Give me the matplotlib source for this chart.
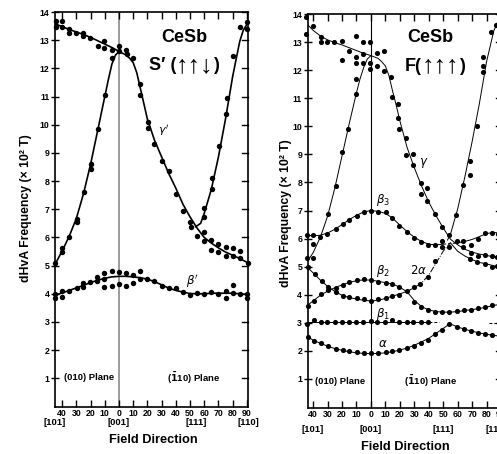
import matplotlib
matplotlib.use("Agg")
import matplotlib.pyplot as plt

plt.rcParams['font.family'] = ['Liberation Sans', 'DejaVu Sans']
plt.rcParams['mathtext.fontset'] = 'dejavusans'

# ---------------- angular axis ----------------
xtick_vals = [-40, -30, -20, -10, 0, 10, 20, 30, 40, 50, 60, 70, 80, 90]
xtick_text = ['40', '30', '20', '10', '0', '10', '20', '30', '40', '50', '60', '70', '80', '90']
ytick_vals = [1, 2, 3, 4, 5, 6, 7, 8, 9, 10, 11, 12, 13, 14]
dir_names = ['[101]', '[001]', '[111]', '[110]']

# ---------------- S' (up up down) phase: measured points ----------------
Sp_upper_x = [-44.6, -44.6, -40.4, -40.0, -35.2, -35.2, -30.5, -25.6, -25.6, -20.4, -15.0,
              -10.4, -10.4, -4.7, 0.0, 0.0, 4.7, 5.4, 10.1]
Sp_upper_y = [13.67, 13.47, 13.67, 13.47, 13.38, 13.27, 13.27, 13.27, 13.14, 13.06, 12.79,
              12.96, 12.74, 12.64, 12.78, 12.62, 12.64, 12.52, 12.38]

Sp_gdesc_x = [14.8, 14.8, 20.2, 20.2, 24.9, 30.5, 35.2, 40.1, 45.3, 50.0, 50.5, 54.7,
              59.9, 59.9, 64.8, 64.8, 69.9, 69.9, 75.1, 75.1, 80.1, 80.1, 85.2, 85.2, 90.6]
Sp_gdesc_y = [11.43, 11.07, 10.08, 9.89, 9.33, 8.72, 8.35, 7.54, 6.94, 6.55, 6.38, 6.06,
              6.20, 5.88, 5.90, 5.55, 5.76, 5.47, 5.67, 5.35, 5.63, 5.34, 5.51, 5.26, 5.10]

Sp_rise_l_x = [-45.0, -40.4, -40.4, -35.2, -29.8, -29.8, -24.6, -19.9, -19.9, -15.0, -9.9, -4.7]
Sp_rise_l_y = [5.10, 5.61, 5.48, 6.00, 6.67, 6.55, 7.62, 8.60, 8.42, 9.84, 11.07, 12.35]

Sp_rise_r_x = [60.1, 60.1, 65.3, 65.3, 70.4, 75.1, 75.8, 80.5, 85.2, 90.4, 90.4]
Sp_rise_r_y = [6.71, 7.06, 7.71, 8.11, 9.25, 10.37, 10.95, 12.44, 13.47, 13.41, 13.65]

Sp_beta_x = [-45, -45, -40.4, -40.4, -35, -29.8, -25.6, -25.6, -20.4, -15.7, -15.7, -10.4, -10.4,
             -10.4, -5.1, -5.1, 0, 0, 4.7, 4.7, 10.1, 10.1, 14.8, 14.8, 19.9, 24.9, 30.5, 35.2,
             40.1, 45.3, 50, 55.1, 59.9, 64.8, 69.9, 75.1, 75.1, 80.1, 80.1, 85.2, 90.4, 90.4]
Sp_beta_y = [3.84, 3.99, 4.10, 3.89, 4.11, 4.19, 4.25, 4.37, 4.41, 4.45, 4.58, 4.72, 4.53,
             4.25, 4.80, 4.28, 4.76, 4.34, 4.74, 4.28, 4.65, 4.40, 4.80, 4.53, 4.53, 4.45, 4.28,
             4.21, 4.19, 4.07, 3.95, 4.04, 3.99, 4.07, 3.99, 4.10, 3.86, 4.31, 4.04, 3.99, 3.99, 3.86]

# S' phase: guide curves
Sp_top_cx = [-45, -40, -35, -30, -25, -20, -15, -10, -5, 0, 5, 7.5, 10, 12.5, 15, 17.5, 20,
             25, 30, 35, 40, 45, 50, 55, 60, 65, 70, 75, 80, 85, 90.8]
Sp_top_cy = [13.58, 13.48, 13.38, 13.29, 13.2, 13.1, 12.98, 12.86, 12.74, 12.6, 12.47, 12.36,
             12.2, 11.85, 11.3, 10.75, 10.2, 9.45, 8.86, 8.27, 7.75, 7.18, 6.73, 6.33, 6.0,
             5.8, 5.63, 5.48, 5.37, 5.25, 5.1]
Sp_rise_l_cx = [-45, -40, -35, -30, -25, -20, -15, -10, -7.5, -5, -2.5, 0]
Sp_rise_l_cy = [5.05, 5.52, 6.05, 6.68, 7.55, 8.6, 9.8, 11.0, 11.6, 12.15, 12.47, 12.6]
Sp_rise_r_cx = [54, 57.5, 60, 65, 70, 75, 80, 85, 87.5, 90.8]
Sp_rise_r_cy = [6.38, 6.5, 6.85, 7.7, 8.85, 10.2, 11.7, 12.95, 13.35, 13.62]
Sp_beta_cx = [-45, -40, -35, -30, -25, -20, -15, -10, -5, 0, 5, 10, 15, 20, 25, 30, 35, 40,
              45, 50, 55, 60, 65, 70, 75, 80, 85, 90.8]
Sp_beta_cy = [3.95, 4.03, 4.12, 4.21, 4.3, 4.4, 4.48, 4.55, 4.6, 4.62, 4.62, 4.6, 4.57, 4.52,
              4.43, 4.32, 4.2, 4.12, 4.06, 4.01, 4.0, 4.0, 4.02, 4.02, 4.02, 4.02, 4.0, 3.98]

# ---------------- F (up up up) phase: measured points ----------------
F_upper_x = [-45.0, -45.0, -39.9, -34.8, -34.8, -30.2, -25.4, -20.3, -20.3, -15.2, -10.6,
             -10.6, -10.6, -5.7, -5.7, -5.7, -0.5, -0.5, -0.5, 4.4, 4.4, 8.9, 8.9, 13.8]
F_upper_y = [13.89, 13.29, 13.59, 13.2, 12.99, 12.99, 12.99, 13.05, 12.38, 12.7, 13.23,
             12.46, 12.26, 13.02, 12.58, 12.26, 12.99, 12.26, 12.06, 12.61, 12.14, 12.7, 11.96, 11.75]

F_gdesc_x = [14.3, 18.9, 18.9, 19.4, 24.0, 24.0, 29.3, 29.3, 34.4, 34.4, 39.0, 39.0, 44.3,
             49.3, 54.2, 63.9, 69.0, 74.3, 78.9, 83.5, 87.5, 68.5, 73.6, 78.9, 83.5, 87.5]
F_gdesc_y = [11.04, 10.78, 10.31, 9.89, 9.6, 8.98, 9.0, 8.63, 7.98, 7.59, 7.79, 7.33, 6.88,
             6.43, 6.13, 5.7, 5.5, 5.38, 5.43, 5.38, 5.34, 5.28, 5.17, 5.11, 4.99, 5.02]

F_grise_l_x = [-44.0, -40.0, -40.0, -29.5, -24.4, -20.3, -15.7, -10.6, -10.6]
F_grise_l_y = [5.31, 5.31, 5.82, 6.88, 7.86, 9.1, 9.89, 11.16, 11.67]

F_grise_r_x = [58.8, 63.4, 68.5, 68.5, 73.1, 77.7, 77.7, 77.7, 83.0, 86.5]
F_grise_r_y = [6.84, 7.92, 8.77, 8.26, 10.01, 12.46, 12.14, 11.93, 13.36, 13.6]

F_beta3_x = [-44.0, -40.0, -35.0, -30.2, -24.4, -19.6, -15.0, -9.9, -4.8, 0.0, 5.0, 10.2,
             14.8, 19.6, 24.7, 29.8, 34.6, 39.7, 44.3, 49.3, 54.2, 59.3, 63.9, 69.0, 74.3,
             78.9, 83.5, 88.0]
F_beta3_y = [6.13, 6.13, 6.05, 6.15, 6.35, 6.52, 6.68, 6.82, 6.94, 7.0, 6.94, 6.94, 6.73,
             6.46, 6.25, 6.02, 5.88, 5.76, 5.76, 5.9, 5.7, 5.9, 5.9, 5.76, 5.99, 6.21, 6.2, 6.15]

F_bandA_x = [-43.8, -38.8, -34.2, -29.5, -24.4, -19.6, -15.0, -9.9, -4.8, 0.0, 5.0, 10.2,
             14.8, 19.6, 24.7]
F_bandA_y = [4.99, 4.75, 4.48, 4.28, 4.1, 3.95, 3.93, 3.87, 3.84, 3.77, 3.84, 3.89, 3.96,
             4.0, 4.12]

F_2alpha_x = [29.8, 33.9, 39.7, 44.3, 49.3]
F_2alpha_y = [4.28, 4.4, 4.65, 5.19, 5.7]

F_beta2_x = [-43.8, -39.2, -34.6, -29.5, -24.4, -19.6, -15.0, -9.9, -4.8, 0.0, 5.0, 10.2,
             14.8, 19.6, 29.8, 34.6, 39.7, 44.3, 49.3, 54.2, 59.3, 64.4, 69.2, 74.3, 78.9,
             84.0, 88.5]
F_beta2_y = [3.61, 3.77, 4.04, 4.16, 4.24, 4.36, 4.46, 4.51, 4.57, 4.51, 4.46, 4.43, 4.4,
             4.28, 3.75, 3.57, 3.45, 3.39, 3.39, 3.37, 3.41, 3.45, 3.47, 3.51, 3.57, 3.63, 3.65]

F_beta1_x = [-44.1, -39.4, -34.8, -30.2, -24.9, -20.3, -15.0, -10.4, -5.3, -0.2, 4.4, 9.7,
             14.3, 19.4, 24.7, 29.3, 34.4, 39.7]
F_beta1_y = [2.94, 3.1, 3.03, 3.03, 3.03, 3.03, 3.03, 3.03, 3.03, 3.05, 3.03, 3.03, 3.1,
             3.03, 3.03, 3.03, 3.03, 3.03]

F_alpha_x = [-43.8, -39.2, -34.6, -29.5, -24.4, -19.6, -15.0, -9.9, -4.8, 0.0, 5.0, 10.2,
             14.8, 19.6, 24.7, 29.8, 34.6, 39.7, 44.3, 49.3, 54.2, 59.3, 64.4, 69.2, 74.3,
             78.9, 84.0, 88.5]
F_alpha_y = [2.51, 2.35, 2.29, 2.19, 2.07, 2.03, 1.98, 1.95, 1.91, 1.91, 1.91, 1.95, 1.98,
             2.03, 2.09, 2.17, 2.28, 2.4, 2.6, 2.76, 2.95, 2.85, 2.77, 2.71, 2.65, 2.6, 2.55, 2.52]

# F phase: guide curves
F_top_cx = [-45, -40, -35, -30, -25, -20, -15, -10, -5, 0, 5, 7.5, 10, 12.5, 15, 17.5, 20,
            25, 30, 35, 40, 45, 50, 55, 60, 65, 70, 75, 80, 85, 91]
F_top_cy = [13.68, 13.42, 13.22, 13.08, 12.98, 12.9, 12.8, 12.7, 12.6, 12.52, 12.42, 12.3,
            12.15, 11.8, 11.25, 10.75, 10.2, 9.25, 8.53, 7.88, 7.3, 6.82, 6.38, 5.98, 5.78,
            5.62, 5.52, 5.45, 5.4, 5.35, 5.32]
F_gl_cx = [-45, -40, -35, -30, -25, -20, -15, -10, -7.5, -5, -2.5, 0]
F_gl_cy = [5.1, 5.5, 6.05, 6.8, 7.8, 8.95, 10.1, 11.2, 11.7, 12.1, 12.4, 12.52]
F_gr_cx = [53, 55, 60, 65, 70, 75, 80, 85, 87.5, 91]
F_gr_cy = [5.95, 6.15, 7.05, 8.2, 9.45, 10.8, 12.3, 13.4, 13.7, 13.85]
F_b3_cx = [-45, -40, -35, -30, -25, -20, -15, -10, -5, 0, 5, 10, 15, 20, 25, 30, 35, 40, 45, 50]
F_b3_cy = [6.12, 6.1, 6.12, 6.2, 6.33, 6.5, 6.68, 6.83, 6.95, 7.0, 6.97, 6.9, 6.73, 6.48,
           6.25, 6.05, 5.9, 5.8, 5.78, 5.8]
F_b3_gap_cx = [50, 55, 60]
F_b3_gap_cy = [5.8, 5.82, 5.85]
F_b3_r_cx = [60, 65, 70, 75, 80, 85, 91]
F_b3_r_cy = [5.85, 5.9, 5.97, 6.07, 6.18, 6.22, 6.18]
F_A_cx = [-45, -40, -35, -30, -25, -20, -15, -10, -5, 0, 5, 10, 15, 20, 25]
F_A_cy = [5.02, 4.78, 4.52, 4.3, 4.12, 3.98, 3.9, 3.85, 3.8, 3.78, 3.8, 3.87, 3.95, 4.03, 4.12]
F_2a_cx = [25, 30, 35, 40, 45, 50, 55]
F_2a_cy = [4.12, 4.25, 4.42, 4.7, 5.12, 5.55, 5.85]
F_low_cx = [55, 60, 65, 70, 75, 80, 85, 91]
F_low_cy = [5.85, 5.55, 5.38, 5.25, 5.15, 5.1, 5.03, 4.97]
F_b2_cx = [-45, -40, -35, -30, -25, -20, -15, -10, -5, 0, 5, 10, 15, 20, 25, 30, 35, 40, 45,
           50, 55, 60, 65, 70, 75, 80, 85, 91]
F_b2_cy = [3.58, 3.78, 3.98, 4.13, 4.25, 4.35, 4.44, 4.5, 4.53, 4.52, 4.48, 4.43, 4.38, 4.27,
           4.1, 3.8, 3.58, 3.46, 3.4, 3.38, 3.38, 3.4, 3.44, 3.47, 3.51, 3.56, 3.62, 3.67]
F_b1_cx = [-45, 40]
F_b1_cy = [3.03, 3.03]
F_b1_dash_cx = [40, 47]
F_b1_dash_cy = [3.03, 3.03]
F_b1_tail_cx = [82, 88]
F_b1_tail_cy = [3.0, 3.0]
F_a_cx = [-45, -40, -35, -30, -25, -20, -15, -10, -5, 0, 5, 10, 15, 20, 25, 30, 35, 40, 45,
          50, 54.7, 60, 65, 70, 75, 80, 85, 91]
F_a_cy = [2.55, 2.38, 2.27, 2.17, 2.08, 2.02, 1.97, 1.93, 1.91, 1.9, 1.91, 1.93, 1.97, 2.03,
          2.1, 2.2, 2.32, 2.45, 2.62, 2.8, 2.97, 2.85, 2.77, 2.7, 2.64, 2.59, 2.55, 2.52]

# ---------------- figure ----------------
W, H = 497, 454
fig = plt.figure(figsize=(W / 100, H / 100), dpi=100)


def add_px_axes(x0, y0, x1, y1):
    return fig.add_axes([x0 / W, 1 - y1 / H, (x1 - x0) / W, (y1 - y0) / H])


def fig_text(xp, yp, s, **kw):
    return fig.text(xp / W, 1 - yp / H, s, **kw)


def text_run(x_center, y_px, pieces, gap=0.0):
    """Lay out text pieces of different sizes side by side, centred on x_center."""
    renderer = fig.canvas.get_renderer()
    objs, widths = [], []
    for s, size, dy in pieces:
        t = fig_text(0, y_px + dy, s, fontsize=size, fontweight='bold',
                     ha='left', va='center')
        widths.append(t.get_window_extent(renderer).width)
        objs.append((t, dy))
    total = sum(widths) + gap * (len(widths) - 1)
    x = x_center - total / 2
    for (t, dy), w in zip(objs, widths):
        t.set_position((x / W, 1 - (y_px + dy) / H))
        x += w + gap


axL = add_px_axes(55, 12, 248, 406.5)
axR = add_px_axes(307.5, 13.5, 502, 408)
axL.set_xlim(-45.07, 90.85)
axL.set_ylim(0, 14)
axR.set_xlim(-43.9, 90.7)
axR.set_ylim(-0.035, 14.02)

for ax in (axL, axR):
    ax.set_xticks(xtick_vals)
    ax.set_xticklabels(xtick_text, fontsize=6.3, fontweight='bold')
    ax.set_yticks(ytick_vals)
    ax.set_yticklabels([str(v) for v in ytick_vals], fontsize=6.3, fontweight='bold')
    ax.tick_params(axis='x', which='both', direction='in', length=5, width=1.0,
                   top=True, pad=1.5)
    ax.tick_params(axis='y', which='both', direction='inout', length=6, width=1.0,
                   right=False, pad=0.8)
    for s in ax.spines.values():
        s.set_linewidth(1.2)
    # inward ticks on the right spine
    for yv in ytick_vals:
        ax.plot([1.0, 0.97], [yv, yv], transform=ax.get_yaxis_transform(), color='black',
                lw=1.0, clip_on=False)

axL.axvline(0, color='#808080', lw=1.1, zorder=1)
axR.axvline(0, color='black', lw=0.8, zorder=1)

# ---- S' panel ----
lwL = 1.2
msL = 3.9
for cx, cy in [(Sp_top_cx, Sp_top_cy), (Sp_rise_l_cx, Sp_rise_l_cy),
               (Sp_rise_r_cx, Sp_rise_r_cy), (Sp_beta_cx, Sp_beta_cy)]:
    axL.plot(cx, cy, '-', color='black', lw=lwL, zorder=2)
for px, py in [(Sp_upper_x, Sp_upper_y), (Sp_gdesc_x, Sp_gdesc_y),
               (Sp_rise_l_x, Sp_rise_l_y), (Sp_rise_r_x, Sp_rise_r_y),
               (Sp_beta_x, Sp_beta_y)]:
    axL.plot(px, py, 'o', color='black', ms=msL, mew=0, clip_on=False, zorder=3)

axL.text(31.5, 9.8, r"$\gamma'$", fontsize=8, ha='center', va='center')
axL.text(51.5, 4.45, r"$\beta'$", fontsize=8.5, ha='center', va='center')

# ---- F panel ----
lwR = 0.7
msR = 3.7
for cx, cy in [(F_top_cx, F_top_cy), (F_gl_cx, F_gl_cy), (F_gr_cx, F_gr_cy),
               (F_b3_cx, F_b3_cy), (F_b3_r_cx, F_b3_r_cy), (F_A_cx, F_A_cy),
               (F_low_cx, F_low_cy), (F_b2_cx, F_b2_cy), (F_b1_cx, F_b1_cy),
               (F_a_cx, F_a_cy)]:
    axR.plot(cx, cy, '-', color='black', lw=lwR, zorder=2)
axR.plot(F_b3_gap_cx, F_b3_gap_cy, '--', color='black', lw=lwR, dashes=(3, 2), zorder=2)
axR.plot(F_2a_cx, F_2a_cy, '-.', color='black', lw=lwR, zorder=2)
axR.plot(F_b1_dash_cx, F_b1_dash_cy, '--', color='black', lw=lwR, dashes=(3, 2), zorder=2)
axR.plot(F_b1_tail_cx, F_b1_tail_cy, '--', color='black', lw=lwR, dashes=(3, 2), zorder=2)
for px, py in [(F_upper_x, F_upper_y), (F_gdesc_x, F_gdesc_y), (F_grise_l_x, F_grise_l_y),
               (F_grise_r_x, F_grise_r_y), (F_beta3_x, F_beta3_y), (F_bandA_x, F_bandA_y),
               (F_2alpha_x, F_2alpha_y), (F_beta2_x, F_beta2_y), (F_beta1_x, F_beta1_y),
               (F_alpha_x, F_alpha_y)]:
    axR.plot(px, py, 'o', color='black', ms=msR, mew=0, clip_on=False, zorder=3)

greek_kw = dict(fontsize=8.5, ha='center', va='center')
axR.text(36.5, 8.7, r"$\gamma$", **greek_kw)
axR.text(8.5, 7.38, r"$\beta_3$", **greek_kw)
axR.text(8.5, 4.85, r"$\beta_2$", **greek_kw)
axR.text(33.0, 4.85, r"$2\alpha$", **greek_kw)
axR.text(8.5, 3.32, r"$\beta_1$", **greek_kw)
axR.text(8.5, 2.25, r"$\alpha$", **greek_kw)

# ---- titles inside panels (spin arrows set larger) ----
fig_text(184, 37.5, "CeSb", fontsize=13, fontweight='bold', ha='center', va='center')
fig_text(430, 37.5, "CeSb", fontsize=13, fontweight='bold', ha='center', va='center')
text_run(184, 66, [("S\u2032 (", 13, 0), ("\u2191\u2191\u2193", 18, -1.0), (")", 13, 0)])
text_run(435, 66.5, [("F(", 13, 0), ("\u2191\u2191\u2191", 18, -1.0), (")", 13, 0)])

# ---- plane labels ----
plane_kw = dict(fontsize=6.8, fontweight='bold', ha='center', va='center')
axL.text(-21.0, 1.02, "(010) Plane", **plane_kw)
axL.text(52.3, 1.0, r"($\mathbf{\bar{1}}$10) Plane", **plane_kw)
axR.text(-21.5, 0.9, "(010) Plane", **plane_kw)
axR.text(41.5, 0.9, r"($\mathbf{\bar{1}}$10) Plane", **plane_kw)

# ---- crystal directions under the angle scale ----
dir_kw = dict(fontsize=6.8, fontweight='bold', ha='center', va='center')
for name, xd in zip(dir_names, [-45.0, 0.0, 54.7, 91.0]):
    axL.text(xd, 1 - (422.7 - 12) / (406.5 - 12), name,
             transform=axL.get_xaxis_transform(), **dir_kw)
for name, xd in zip(dir_names, [-40.5, 0.0, 50.0, 86.5]):
    axR.text(xd, 1 - (429.3 - 13.5) / (408 - 13.5), name,
             transform=axR.get_xaxis_transform(), **dir_kw)

# ---- axis titles ----
fig_text(153, 440, "Field Direction", fontsize=9.2, fontweight='bold',
         ha='center', va='center')
fig_text(405, 446.5, "Field Direction", fontsize=9.2, fontweight='bold',
         ha='center', va='center')
ylab = "dHvA Frequency (\u00d7 10\u00b2 T)"
fig_text(26.5, 208, ylab, fontsize=8.8, fontweight='bold', rotation=90,
         ha='center', va='center')
fig_text(286.5, 213, ylab, fontsize=8.8, fontweight='bold', rotation=90,
         ha='center', va='center')

fig.savefig("out.png", dpi=100)
